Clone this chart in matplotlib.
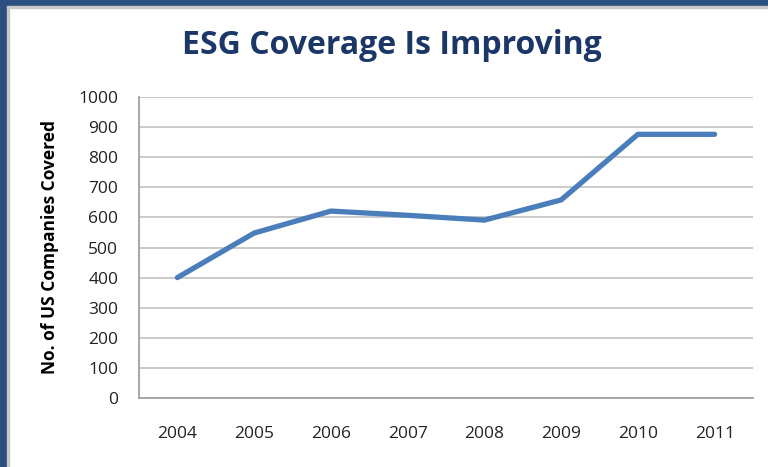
import matplotlib.pyplot as plt
from matplotlib.patches import Rectangle

years = ["2004", "2005", "2006", "2007", "2008", "2009", "2010", "2011"]
companies = [400, 548, 621, 607, 591, 658, 876, 876]
y_ticks = [0, 100, 200, 300, 400, 500, 600, 700, 800, 900, 1000]

W, H = 768, 467
fig = plt.figure(figsize=(W / 100, H / 100), dpi=100)
fig.patch.set_facecolor("white")

# dark frame on left and top, with a thin gray inner line
frame = "#2B4F7E"
fig.patches.append(Rectangle((0, 0), 6 / W, 1, transform=fig.transFigure, color=frame, zorder=0))
fig.patches.append(Rectangle((0, 1 - 5 / H), 1, 5 / H, transform=fig.transFigure, color=frame, zorder=0))
fig.patches.append(Rectangle((7 / W, 0), 2 / W, 1 - 7 / H, transform=fig.transFigure, color="#C8C8C8", zorder=0))
fig.patches.append(Rectangle((7 / W, 1 - 8 / H), 1, 2 / H, transform=fig.transFigure, color="#C8C8C8", zorder=0))

left, right, top, bottom = 139, 753, 97, 398
ax = fig.add_axes([left / W, 1 - bottom / H, (right - left) / W, (bottom - top) / H])

x = list(range(len(years)))
ax.plot(x, companies, color="#4A7EBB", linewidth=3.8, solid_capstyle="round", zorder=3)

ax.set_xlim(-0.5, len(years) - 0.5)
ax.set_ylim(0, 1000)
ax.set_yticks(y_ticks)
ax.set_xticks(x)
ax.set_xticklabels(years)
ax.yaxis.grid(True, color="#C6C6C6", linewidth=1.3)
ax.set_axisbelow(True)

for side in ["top", "right"]:
    ax.spines[side].set_visible(False)
ax.spines["left"].set_color("#A0A0A0")
ax.spines["bottom"].set_color("#A0A0A0")
ax.spines["left"].set_linewidth(1.3)
ax.spines["bottom"].set_linewidth(1.3)

ax.tick_params(axis="both", length=0, labelsize=12.5, colors="#222222")
ax.tick_params(axis="y", pad=15)
ax.tick_params(axis="x", pad=20)
for lab in ax.get_xticklabels() + ax.get_yticklabels():
    lab.set_family("Open Sans")

ax.set_ylabel("No. of US Companies Covered", fontsize=12.5, fontweight="bold",
              family="Open Sans")
ax.yaxis.set_label_coords(-0.130, 0.5)

fig.text(392 / W, 1 - 46 / H, "ESG Coverage Is Improving", ha="center", va="center",
         fontsize=23, fontweight="bold", color="#1B3768", family="Open Sans")

fig.savefig("out.png", dpi=100, facecolor="white")
